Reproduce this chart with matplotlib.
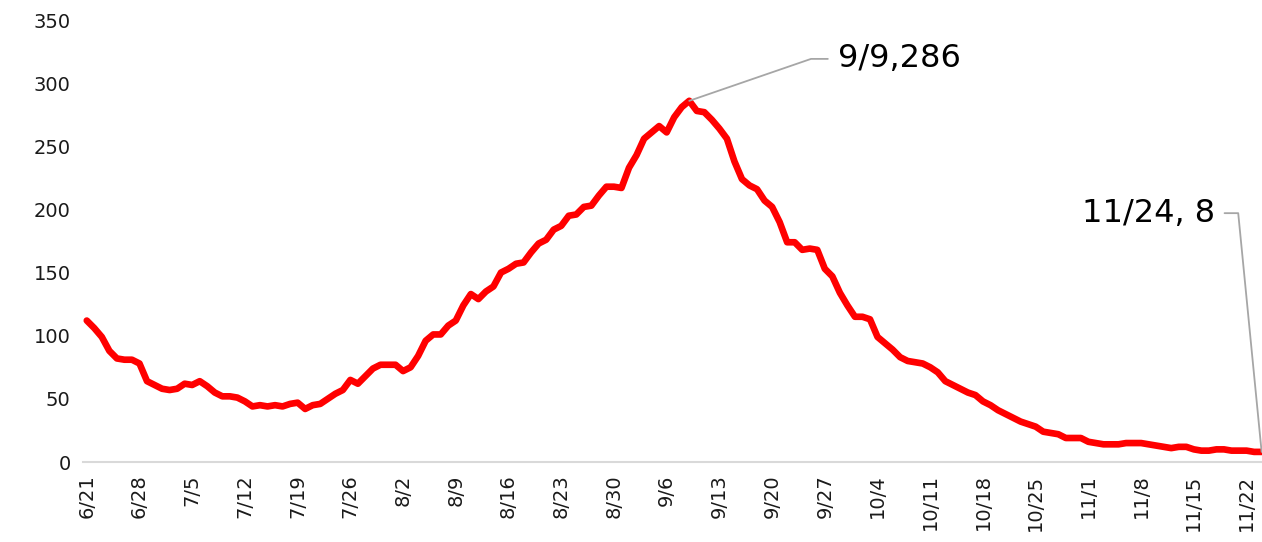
import numpy as np
import pandas as pd
import matplotlib
matplotlib.use("Agg")
import matplotlib.pyplot as plt

# daily values 6/21 - 11/24
dates = pd.date_range("2021-06-21", "2021-11-24", freq="D")
date_labels = [f"{d.month}/{d.day}" for d in dates]

values = [
    112, 106, 99, 88, 82, 81, 81, 78, 64, 61,
    58, 57, 58, 62, 61, 64, 60, 55, 52, 52,
    51, 48, 44, 45, 44, 45, 44, 46, 47, 42,
    45, 46, 50, 54, 57, 65, 62, 68, 74, 77,
    77, 77, 72, 75, 84, 96, 101, 101, 108, 112,
    124, 133, 129, 135, 139, 150, 153, 157, 158, 166,
    173, 176, 184, 187, 195, 196, 202, 203, 211, 218,
    218, 217, 233, 243, 256, 261, 266, 261, 273, 281,
    286, 278, 277, 271, 264, 256, 238, 224, 219, 216,
    207, 202, 190, 174, 174, 168, 169, 168, 153, 147,
    134, 124, 115, 115, 113, 99, 94, 89, 83, 80,
    79, 78, 75, 71, 64, 61, 58, 55, 53, 48,
    45, 41, 38, 35, 32, 30, 28, 24, 23, 22,
    19, 19, 19, 16, 15, 14, 14, 14, 15, 15,
    15, 14, 13, 12, 11, 12, 12, 10, 9, 9,
    10, 10, 9, 9, 9, 8, 8,
]

peak_label = "9/9,286"
last_label = "11/24, 8"

x = np.arange(len(values))
peak_idx = int(np.argmax(values))
last_idx = len(values) - 1

fig = plt.figure(figsize=(12.62, 5.42), dpi=100)
ax = fig.add_axes([83 / 1262, 80 / 542, 1179 / 1262, 442 / 542])

ax.plot(x, values, color="#FF0000", lw=4.8, solid_joinstyle="round",
        solid_capstyle="round", clip_on=False, zorder=3)

ax.set_xlim(-0.5, last_idx + 0.05)
ax.set_ylim(0, 350)
ax.set_yticks(np.arange(0, 351, 50))
ax.set_xticks(x[::7])
ax.set_xticklabels(date_labels[::7], rotation=90)

for s in ["top", "right", "left"]:
    ax.spines[s].set_visible(False)
ax.spines["bottom"].set_color("#d9d9d9")
ax.spines["bottom"].set_linewidth(1.5)
ax.tick_params(axis="both", length=0, labelsize=14, colors="#1a1a1a")
ax.tick_params(axis="y", pad=9)
ax.tick_params(axis="x", pad=9)

line_kw = dict(arrowstyle="-", color="#a6a6a6", lw=1.3, shrinkA=5, shrinkB=0)

ax.annotate(peak_label, xy=(x[peak_idx], values[peak_idx]),
            xytext=(0.640, 0.912), textcoords="axes fraction",
            ha="left", va="center", fontsize=23, color="black",
            arrowprops=dict(connectionstyle="angle,angleA=180,angleB=19,rad=0", **line_kw))

ax.annotate(last_label, xy=(x[last_idx], values[last_idx]),
            xytext=(0.960, 0.563), textcoords="axes fraction",
            ha="right", va="center", fontsize=23, color="black",
            arrowprops=dict(connectionstyle="angle,angleA=0,angleB=95.6,rad=0", **line_kw))

fig.savefig("out.png", dpi=100)
